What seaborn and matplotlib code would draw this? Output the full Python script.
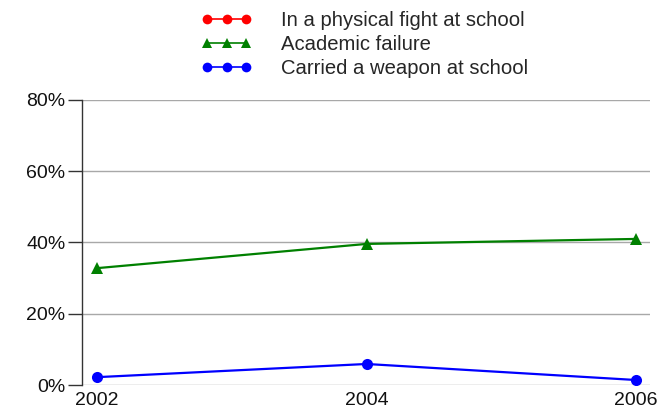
import numpy as np
import pandas as pd
import matplotlib
matplotlib.use('Agg')
import matplotlib.pyplot as plt
import seaborn as sns
from matplotlib.lines import Line2D
from matplotlib.ticker import PercentFormatter

# Data
years = [2002, 2004, 2006]
fight = [np.nan, np.nan, np.nan]       # no points drawn in the reference
academic = [32.8, 39.6, 41.0]
weapon = [2.2, 5.9, 1.4]

series_names = ['In a physical fight at school', 'Academic failure', 'Carried a weapon at school']
series_values = [fight, academic, weapon]
series_colors = ['#ff0000', '#008000', '#0000ff']
series_markers = ['o', '^', 'o']
y_ticks = [0, 20, 40, 60, 80]

sns.set_style('white')
plt.rcParams['font.family'] = ['Liberation Sans', 'DejaVu Sans']

fig = plt.figure(figsize=(6.58, 4.15), dpi=100)
ax = fig.add_axes([82 / 658, 30 / 415, (650 - 82) / 658, 285 / 415])

handles = []
for name, vals, col, mk in zip(series_names, series_values, series_colors, series_markers):
    df = pd.DataFrame({'year': years, 'value': vals}).dropna()
    if len(df):
        sns.lineplot(data=df, x='year', y='value', ax=ax, color=col, marker=mk,
                     markersize=8, markeredgewidth=0, linewidth=1.6, legend=False)
    handles.append(Line2D([], [], color=col, marker=mk, markersize=7,
                          markeredgewidth=0, linewidth=1.2, label=name))

ax.set_xlim(2002 - 15 / 134.5, 2006 + 14 / 134.5)
ax.set_ylim(0, 80)
ax.set_xticks(years)
ax.set_yticks(y_ticks)
ax.yaxis.set_major_formatter(PercentFormatter(decimals=0))
ax.set_xlabel('')
ax.set_ylabel('')

for y in y_ticks:
    ax.axhline(y, color='#a8a8a8', linewidth=1, zorder=0)

for s in ['top', 'right', 'bottom']:
    ax.spines[s].set_visible(False)
ax.spines['left'].set_color('#333333')
ax.spines['left'].set_linewidth(1)

ax.tick_params(axis='y', direction='out', length=10, width=1, color='#333333',
               pad=2, labelsize=14, labelcolor='#111111')
ax.tick_params(axis='x', length=0, pad=5, labelsize=14, labelcolor='#111111')
ax.yaxis.set_ticks_position('left')

leg = fig.legend(handles=handles, loc='upper left', bbox_to_anchor=(190 / 658, 1.0),
                 frameon=False, numpoints=3, handlelength=2.5, handletextpad=1.45,
                 labelspacing=0.24, fontsize=14.6, borderaxespad=0.15)

fig.savefig('out.png', dpi=100)
